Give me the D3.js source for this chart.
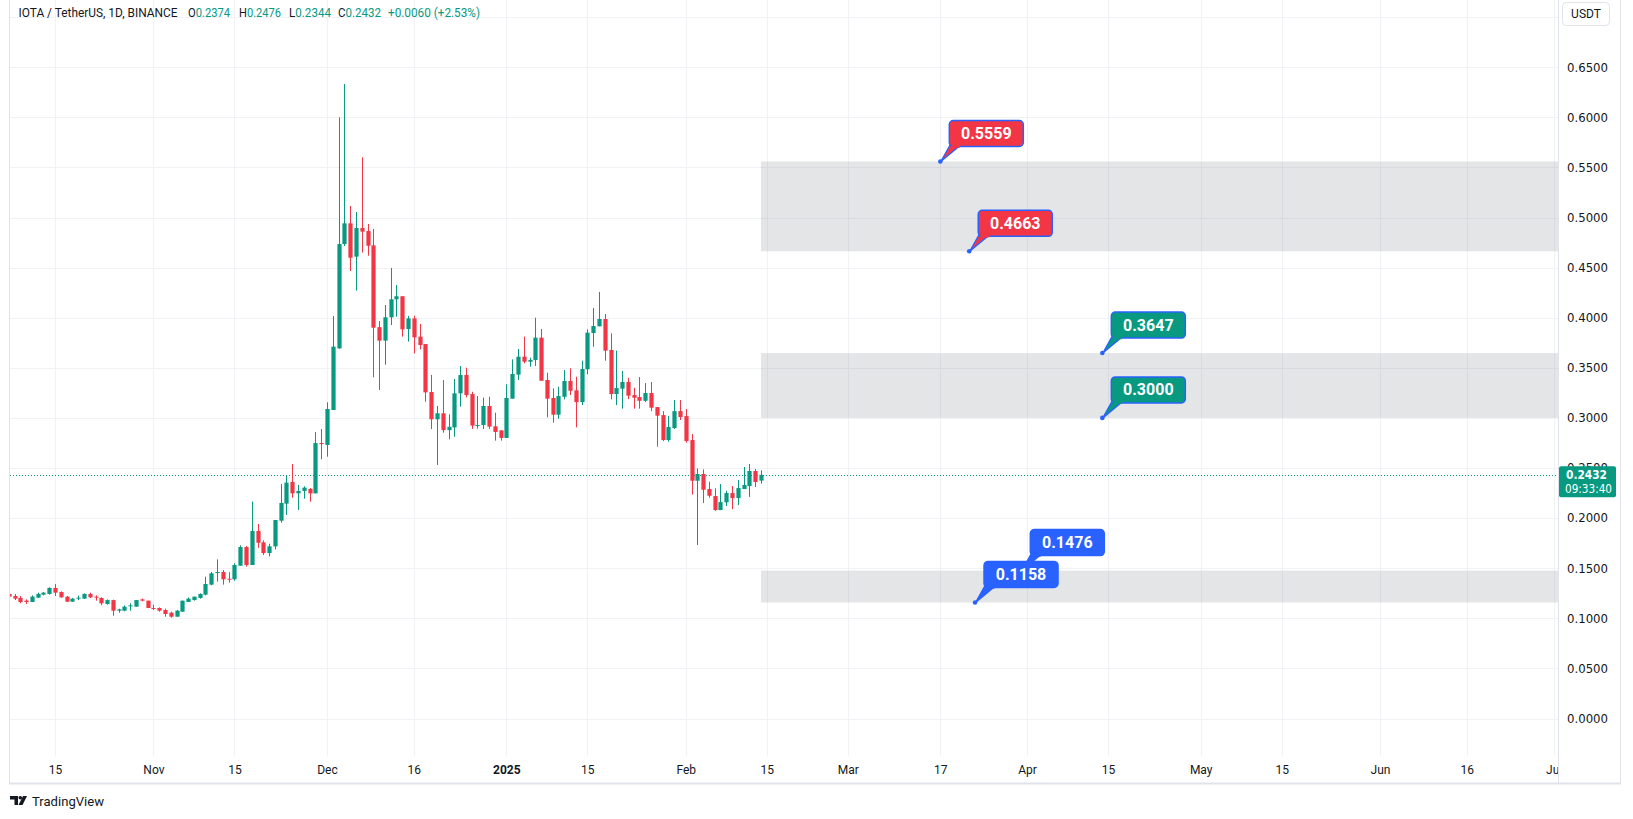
<!DOCTYPE html>
<html><head><meta charset="utf-8">
<script src="https://cdn.jsdelivr.net/npm/d3@7"></script>
<style>body{margin:0;background:#fff;overflow:hidden}svg{display:block}</style>
</head><body>
<svg id="c" width="1633" height="819"></svg>
<script>
// ---------- data ----------
const firstDay = "2024-10-07"; // one candle per day from here
const opens = [
0.1243,0.1223,0.1203,0.1176,0.1163,0.1206,0.1236,0.1243,0.1303,0.1262,0.1216,0.1166,0.1196,0.1196,0.1243,0.1216,0.1203,0.1143,0.1182,0.1076,0.1076,0.1119,0.1116,0.1189,0.1176,
0.1103,0.1103,0.1083,0.1056,0.1016,0.1066,0.1163,0.1182,0.1203,0.1236,0.1336,0.1455,0.1462,0.1395,0.1389,0.1525,0.1711,0.1532,0.1871,0.1758,0.1651,0.1718,0.1974,0.2144,0.2360,0.2247,0.2271,0.2291,0.2247,0.2749,
0.2730,0.3079,0.3694,0.4735,0.4942,0.4609,0.4895,0.4865,0.4722,0.3906,0.3771,0.4004,0.4184,0.4214,0.3887,0.3993,0.3811,0.3737,0.3258,0.2986,0.3046,0.2878,0.2905,0.3245,0.3428,0.3238,0.2923,0.2929,0.3119,0.2916,0.2876,
0.2800,0.3192,0.3432,0.3611,0.3561,0.3578,0.3801,0.3378,0.3199,0.3032,0.3211,0.3368,0.3275,0.3158,0.3485,0.3847,0.3914,0.3987,0.3678,0.3238,0.3292,0.3358,0.3228,0.3208,0.3171,0.3248,0.3108,0.3028,0.2779,0.2899,0.3068,
0.3018,0.2779,0.2373,0.2440,0.2290,0.2220,0.2080,0.2157,0.2250,0.2200,0.2290,0.2320,0.2470,0.2374];
const highs = [
0.1246,0.1243,0.1223,0.1189,0.1229,0.1256,0.1262,0.1309,0.1342,0.1269,0.1223,0.1203,0.1226,0.1249,0.1256,0.1229,0.1209,0.1189,0.1186,0.1096,0.1129,0.1150,0.1182,0.1196,0.1176,
0.1136,0.1109,0.1096,0.1066,0.1083,0.1176,0.1209,0.1216,0.1249,0.1415,0.1462,0.1588,0.1482,0.1460,0.1549,0.1728,0.1721,0.2164,0.1941,0.1778,0.1744,0.1981,0.2340,0.2430,0.2539,0.2331,0.2317,0.2300,0.2859,0.2889,
0.3156,0.4017,0.6000,0.6332,0.5115,0.5055,0.5601,0.4935,0.4885,0.3966,0.4127,0.4496,0.4326,0.4214,0.4017,0.4020,0.3937,0.3737,0.3428,0.3119,0.3378,0.3036,0.3388,0.3518,0.3501,0.3261,0.3218,0.3202,0.3211,0.3052,0.2876,
0.3335,0.3584,0.3688,0.3811,0.3601,0.4000,0.3887,0.3451,0.3295,0.3311,0.3478,0.3495,0.3411,0.3571,0.3884,0.4097,0.4257,0.4037,0.3844,0.3671,0.3468,0.3401,0.3301,0.3408,0.3348,0.3358,0.3108,0.3068,0.3019,0.3178,0.3178,
0.3088,0.2839,0.2496,0.2486,0.2363,0.2297,0.2340,0.2273,0.2320,0.2380,0.2510,0.2540,0.2490,0.2476];
const lows = [
0.1206,0.1182,0.1150,0.1143,0.1163,0.1203,0.1229,0.1236,0.1223,0.1206,0.1163,0.1163,0.1182,0.1196,0.1203,0.1176,0.1130,0.1136,0.1026,0.1056,0.1070,0.1076,0.1116,0.1169,0.1103,
0.1083,0.1066,0.1016,0.1006,0.1016,0.1066,0.1163,0.1176,0.1196,0.1229,0.1329,0.1366,0.1336,0.1356,0.1375,0.1525,0.1515,0.1532,0.1704,0.1631,0.1618,0.1688,0.1954,0.2031,0.2204,0.2081,0.2194,0.2164,0.2247,0.2587,
0.2613,0.3079,0.3690,0.4715,0.4466,0.4270,0.4649,0.4619,0.3405,0.3278,0.3531,0.3927,0.4010,0.3811,0.3761,0.3644,0.3684,0.3162,0.2889,0.2530,0.2852,0.2786,0.2812,0.3112,0.3205,0.2890,0.2893,0.2890,0.2890,0.2773,0.2773,
0.2800,0.3192,0.3378,0.3545,0.3511,0.3518,0.3371,0.3006,0.2952,0.2992,0.3185,0.3228,0.2906,0.3128,0.3435,0.3710,0.3914,0.3571,0.3185,0.3128,0.3092,0.3188,0.3092,0.3092,0.3158,0.3068,0.2713,0.2769,0.2763,0.2889,0.2979,
0.2753,0.2234,0.1732,0.2150,0.2203,0.2073,0.2080,0.2120,0.2090,0.2130,0.2290,0.2211,0.2310,0.2344];
const closes = [
0.1216,0.1196,0.1163,0.1163,0.1216,0.1243,0.1256,0.1303,0.1256,0.1209,0.1166,0.1196,0.1206,0.1243,0.1209,0.1209,0.1150,0.1182,0.1076,0.1089,0.1116,0.1129,0.1182,0.1176,0.1103,
0.1093,0.1076,0.1043,0.1016,0.1076,0.1176,0.1196,0.1216,0.1243,0.1342,0.1449,0.1462,0.1389,0.1389,0.1532,0.1711,0.1532,0.1871,0.1754,0.1651,0.1718,0.1981,0.2151,0.2354,0.2247,0.2271,0.2304,0.2247,0.2749,0.2739,
0.3089,0.3711,0.4735,0.4942,0.4599,0.4895,0.4859,0.4718,0.3900,0.3771,0.4004,0.4184,0.4214,0.3884,0.3993,0.3804,0.3727,0.3255,0.2986,0.3046,0.2878,0.2911,0.3245,0.3428,0.3228,0.2923,0.2929,0.3119,0.2913,0.2860,0.2800,
0.3199,0.3438,0.3611,0.3561,0.3578,0.3801,0.3371,0.3192,0.3032,0.3218,0.3368,0.3271,0.3158,0.3488,0.3851,0.3917,0.3987,0.3671,0.3238,0.3298,0.3358,0.3222,0.3201,0.3171,0.3248,0.3102,0.3022,0.2779,0.2909,0.3068,0.3008,
0.2769,0.2373,0.2440,0.2283,0.2223,0.2080,0.2160,0.2250,0.2200,0.2300,0.2330,0.2470,0.2360,0.2432];

const priceTicks = [0,0.05,0.1,0.15,0.2,0.25,0.3,0.35,0.4,0.45,0.5,0.55,0.6,0.65,0.7];
const timeTickDates = ["2024-10-15","2024-11-01","2024-11-15","2024-12-01","2024-12-16","2025-01-01","2025-01-15","2025-02-01","2025-02-15","2025-03-01","2025-03-17","2025-04-01","2025-04-15","2025-05-01","2025-05-15","2025-06-01","2025-06-16","2025-07-01"];
const timeTickLabels = ["15","Nov","15","Dec","16","2025","15","Feb","15","Mar","17","Apr","15","May","15","Jun","16","Jul"];

const zoneStart = "2025-02-14", zoneEnd = "2025-08-01";
const zoneLows  = [0.4663, 0.3000, 0.1158];
const zoneHighs = [0.5559, 0.3647, 0.1476];

const calloutValues = [0.5559, 0.4663, 0.3647, 0.3000, 0.1476, 0.1158];
const calloutDates  = ["2025-03-17","2025-03-22","2025-04-14","2025-04-14","2025-03-31","2025-03-23"];
const calloutColors = ["#f23645","#f23645","#089981","#089981","#2962ff","#2962ff"];

const lastPrice = 0.2432, countdown = "09:33:40";
const header = {sym:"IOTA / TetherUS, 1D, BINANCE", o:"0.2374", h:"0.2476", l:"0.2344", c:"0.2432", chg:"+0.0060 (+2.53%)"};

// ---------- layout ----------
const UP = "#089981", DOWN = "#f23645", GRID = "#f0f2f5", TXT = "#131722";
const plotL = 10, plotR = 1558, plotT = 0, plotB = 756, axisB = 783, frameR = 1620;
const pd = d3.utcParse("%Y-%m-%d");
const dayW = 5.786;
const x = d3.scaleUtc().domain([pd("2024-12-01"), pd("2025-07-01")]).range([327, 327 + 212*dayW]);
const y = d3.scaleLinear().domain([0, 0.65]).range([718.5, 67.2]);

const dates = d3.utcDay.range(pd(firstDay), d3.utcDay.offset(pd(firstDay), opens.length));
const candles = dates.map((d,i)=>({d, o:opens[i], h:highs[i], l:lows[i], c:closes[i]}));

const svg = d3.select("#c");
svg.append("rect").attr("width",1633).attr("height",819).attr("fill","#fff");
const defs = svg.append("defs");
defs.append("clipPath").attr("id","plot").append("rect").attr("x",plotL).attr("y",plotT).attr("width",plotR-plotL).attr("height",plotB-plotT);

const plot = svg.append("g").attr("clip-path","url(#plot)");

// grid
plot.append("g").selectAll("line").data(priceTicks).join("line")
  .attr("x1",plotL).attr("x2",plotR).attr("y1",d=>Math.round(y(d))+0.5).attr("y2",d=>Math.round(y(d))+0.5)
  .attr("stroke",GRID).attr("stroke-width",1);
plot.append("g").selectAll("line").data(timeTickDates).join("line")
  .attr("x1",d=>Math.round(x(pd(d)))+0.5).attr("x2",d=>Math.round(x(pd(d)))+0.5).attr("y1",0).attr("y2",plotB)
  .attr("stroke",GRID);

// zones
plot.append("g").selectAll("rect").data(zoneLows).join("rect")
  .attr("x", x(pd(zoneStart))).attr("width", x(pd(zoneEnd)) - x(pd(zoneStart)))
  .attr("y",(d,i)=>y(zoneHighs[i])).attr("height",(d,i)=>y(d)-y(zoneHighs[i]))
  .attr("fill","rgba(120,123,134,0.2)");

// last price dotted line
plot.append("line").attr("x1",plotL).attr("x2",plotR).attr("y1",Math.round(y(lastPrice))+0.5).attr("y2",Math.round(y(lastPrice))+0.5)
  .attr("stroke",UP).attr("stroke-width",1).attr("stroke-dasharray","1,2");

// candles
const bw = 4.2;
const cg = plot.append("g").selectAll("g").data(candles).join("g");
cg.append("line").attr("x1",d=>Math.round(x(d.d))+0.5).attr("x2",d=>Math.round(x(d.d))+0.5)
  .attr("y1",d=>y(d.h)).attr("y2",d=>y(d.l)).attr("stroke",d=>d.c>=d.o?UP:DOWN).attr("stroke-width",1);
cg.append("rect").attr("x",d=>Math.round(x(d.d))+0.5-bw/2).attr("width",bw)
  .attr("y",d=>y(Math.max(d.o,d.c))).attr("height",d=>Math.max(1,Math.abs(y(d.o)-y(d.c))))
  .attr("fill",d=>d.c>=d.o?UP:DOWN);

// callouts
const cog = plot.append("g");
calloutValues.forEach((v,i)=>{
  const cx = x(pd(calloutDates[i])), cy = y(v);
  const bx = cx + 9, w = 74, h = 26, by = cy - 15 - h;
  const fill = calloutColors[i];
  const g = cog.append("g");
  g.append("path").attr("d",`M${bx+1},${by+h-2} L${cx+0.5},${cy} L${bx+12},${by+h-2} Z`)
    .attr("fill",fill).attr("stroke","#2962ff").attr("stroke-width",1.3).attr("stroke-linejoin","round");
  g.append("rect").attr("x",bx).attr("y",by).attr("width",w).attr("height",h).attr("rx",4)
    .attr("fill",fill).attr("stroke","#2962ff").attr("stroke-width",1.5);
  g.append("path").attr("d",`M${bx+2},${by+h-3} L${bx+11.2},${by+h-3} L${bx+10.4},${by+h+1.2} L${bx+2.2},${by+h+1.2} Z`).attr("fill",fill);
  g.append("circle").attr("cx",cx).attr("cy",cy).attr("r",2.3).attr("fill","#2962ff");
  g.append("text").attr("x",bx+w/2).attr("y",by+h/2+5.5).attr("text-anchor","middle")
    .attr("font-family","Roboto, sans-serif").attr("font-weight",700).attr("font-size",16).attr("fill","#fff")
    .text(d3.format(".4f")(v));
});

// frame & separators
svg.append("line").attr("x1",plotL-0.5).attr("x2",plotL-0.5).attr("y1",0).attr("y2",axisB).attr("stroke","#e0e3eb");
svg.append("line").attr("x1",plotR+0.5).attr("x2",plotR+0.5).attr("y1",0).attr("y2",axisB).attr("stroke","#e0e3eb");
svg.append("line").attr("x1",frameR+0.5).attr("x2",frameR+0.5).attr("y1",0).attr("y2",axisB).attr("stroke","#e0e3eb");
svg.append("line").attr("x1",plotL-1).attr("x2",frameR+1).attr("y1",axisB+0.5).attr("y2",axisB+0.5).attr("stroke","#e0e3eb").attr("stroke-width",2);

// price axis
const pax = svg.append("g").attr("transform",`translate(${plotR},0)`)
  .call(d3.axisRight(y).tickValues(priceTicks.filter(v=>v<=0.65)).tickFormat(d3.format(".4f")).tickSize(0).tickPadding(9));
pax.select(".domain").remove();
pax.selectAll("text").attr("font-family","'DejaVu Sans', sans-serif").attr("font-size",12).attr("fill",TXT)
  .attr("textLength",41).attr("lengthAdjust","spacingAndGlyphs");

// time axis
defs.append("clipPath").attr("id","taxis2").append("rect").attr("x",plotL).attr("y",0).attr("width",plotR-plotL).attr("height",40);
const tax = svg.append("g").attr("transform",`translate(0,${plotB})`).attr("clip-path","url(#taxis2)")
  .call(d3.axisBottom(x).tickValues(timeTickDates.map(pd)).tickFormat((d,i)=>timeTickLabels[i]).tickSize(0).tickPadding(9));
tax.select(".domain").remove();
tax.selectAll("text").attr("font-family","Roboto, sans-serif").attr("font-size",12).attr("fill",TXT)
  .attr("font-weight",(d,i)=>timeTickLabels[i]==="2025"?700:400);

// current price label
const lp = svg.append("g");
lp.append("rect").attr("x",plotR+1).attr("y",y(lastPrice)-8.5).attr("width",57).attr("height",31).attr("rx",2).attr("fill",UP);
lp.append("text").attr("x",plotR+8).attr("y",y(lastPrice)+4.5).attr("font-family","'DejaVu Sans', sans-serif").attr("font-weight",700).attr("font-size",12).attr("fill","#fff")
  .attr("textLength",41).attr("lengthAdjust","spacingAndGlyphs").text(d3.format(".4f")(lastPrice));
lp.append("text").attr("x",plotR+7).attr("y",y(lastPrice)+18).attr("font-family","'DejaVu Sans', sans-serif").attr("font-size",12).attr("fill","#fff")
  .attr("textLength",47).attr("lengthAdjust","spacingAndGlyphs").text(countdown);

// USDT box
svg.append("rect").attr("x",1562.5).attr("y",2.5).attr("width",47).attr("height",23).attr("rx",4).attr("fill","#fff").attr("stroke","#e0e3eb");
svg.append("text").attr("x",1586).attr("y",18).attr("text-anchor","middle").attr("font-family","Roboto, sans-serif").attr("font-size",12).attr("fill",TXT).text("USDT");

// header
const hg = svg.append("g").attr("font-family","Roboto, sans-serif").attr("font-size",12.5);
function seg(xp, w, parts){
  const t = hg.append("text").attr("x",xp).attr("y",16.5).attr("textLength",w).attr("lengthAdjust","spacingAndGlyphs");
  parts.forEach(([s,col])=>t.append("tspan").attr("fill",col).text(s));
}
seg(18.5,159,[[header.sym,TXT]]);
seg(188,42,[["O",TXT],[header.o,UP]]);
seg(239,42,[["H",TXT],[header.h,UP]]);
seg(289,42,[["L",TXT],[header.l,UP]]);
seg(338,43,[["C",TXT],[header.c,UP]]);
seg(388,92,[[header.chg,UP]]);

// TradingView logo
const lg = svg.append("g").attr("transform","translate(10,796)");
lg.append("path").attr("d","M0,0 H8 V9 H4.5 V3.5 H0 Z").attr("fill","#131722");
lg.append("circle").attr("cx",10.3).attr("cy",1.8).attr("r",1.8).attr("fill","#131722");
lg.append("path").attr("d","M13,0 H17 L12.5,9 H8.5 Z").attr("fill","#131722");
svg.append("text").attr("x",32).attr("y",806).attr("font-family","Roboto, sans-serif").attr("font-size",13).attr("fill","#131722").attr("textLength",72).attr("lengthAdjust","spacingAndGlyphs").text("TradingView");
</script>
</body></html>
